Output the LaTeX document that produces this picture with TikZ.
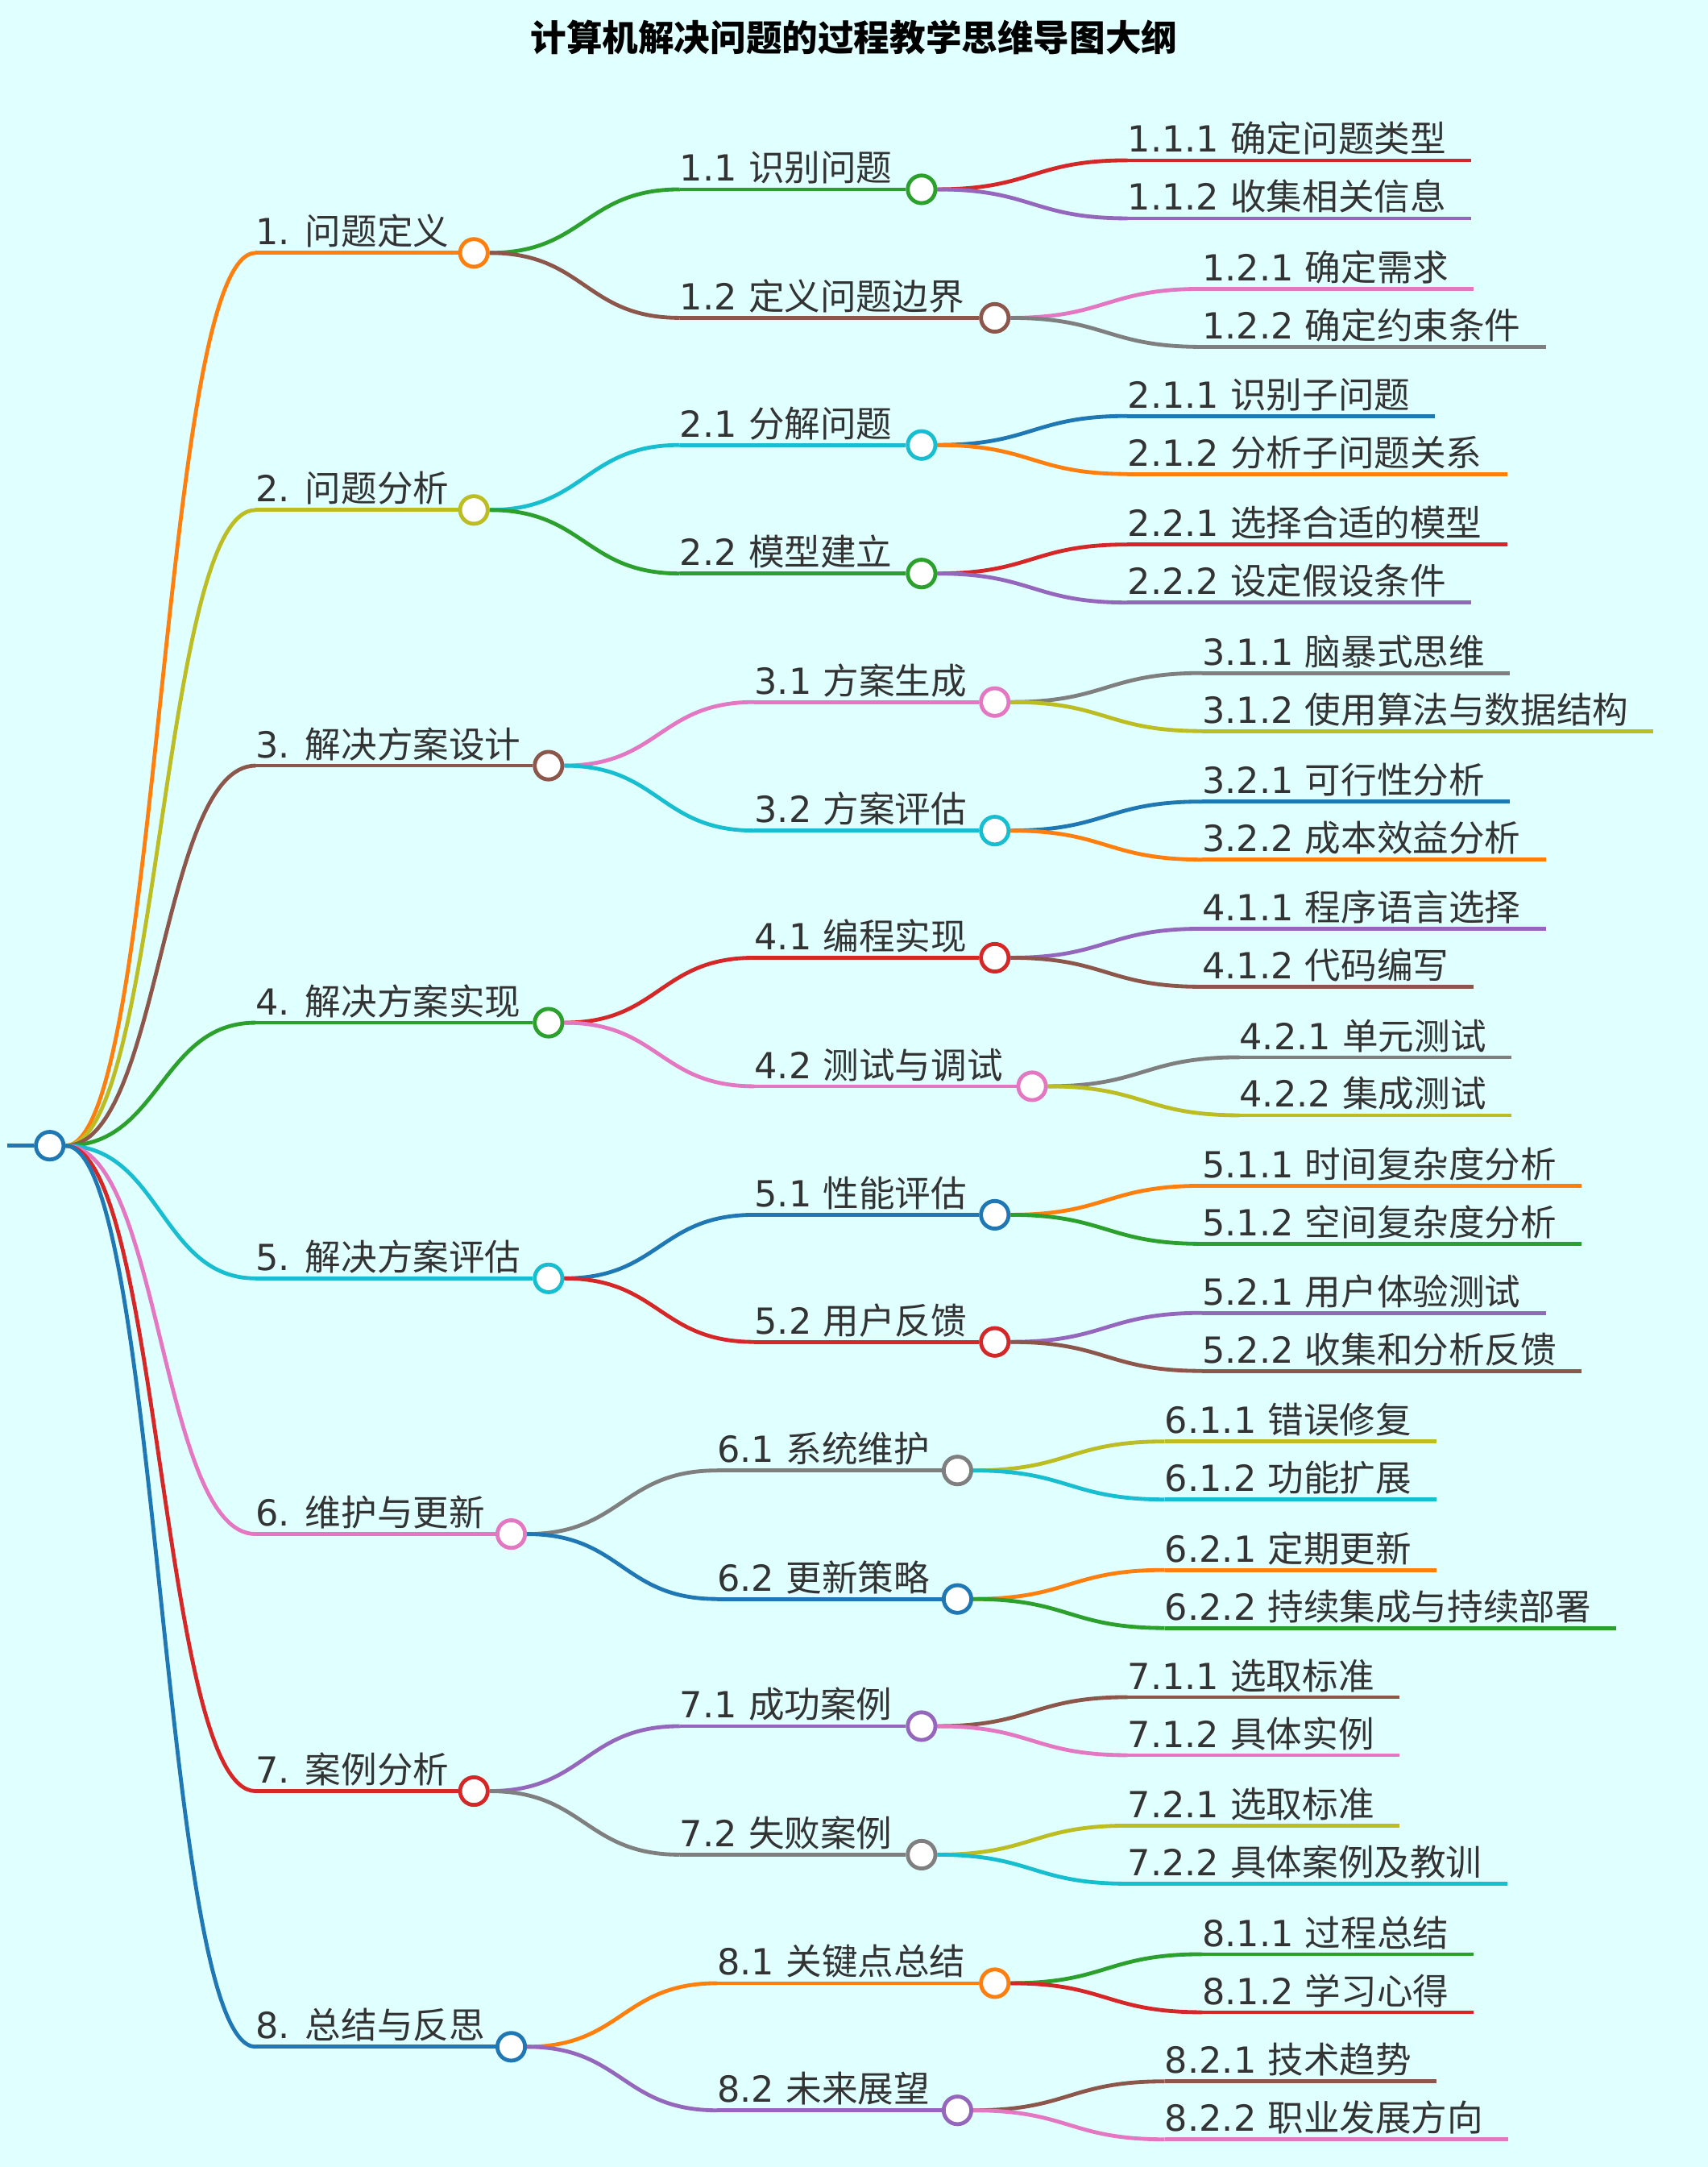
\documentclass[tikz,border=0pt]{standalone}
\usepackage{fontspec}
\setmainfont{Noto Sans CJK SC}
\newfontfamily\latn{DejaVu Sans}
\usetikzlibrary{calc}
\definecolor{bg}{HTML}{E0FFFF}
\definecolor{cor}{HTML}{FF7F0E}
\definecolor{col}{HTML}{BCBD22}
\definecolor{cbr}{HTML}{8C564B}
\definecolor{cgr}{HTML}{2CA02C}
\definecolor{ccy}{HTML}{17BECF}
\definecolor{cpk}{HTML}{E377C2}
\definecolor{crd}{HTML}{D62728}
\definecolor{cbl}{HTML}{1F77B4}
\definecolor{cpu}{HTML}{9467BD}
\definecolor{cgy}{HTML}{7F7F7F}
\tikzset{dot/.style = {circle, draw, fill=white, minimum size=1cm, inner sep=0pt, line width=4pt},
         lbl/.style = {anchor=south west, inner xsep=0pt, inner ysep=5pt, text=black!80,
                       font=\fontsize{37}{40}\selectfont},
         edge/.style = {line width=4pt}
        }
\newcommand{\curveto}[3]{%
  \draw[edge,#3] let \p1=(#1), \p2=(#2) in
    (\p1) .. controls (\x1*0.5+\x2*0.5,\y1) and (\x1*0.5+\x2*0.5,\y2) .. (\p2);}
\begin{document}
\begin{tikzpicture}[x=0.05cm,y=-0.05cm]
  \fill[bg] (0,0) rectangle (1236,1568);
  \useasboundingbox (0,0) rectangle (1236,1568);
  \node[font=\fontsize{37}{40}\selectfont\bfseries] (title) at (618,27) {计算机解决问题的过程教学思维导图大纲};
  % root
  \coordinate (stub) at (5,829);
  \node[dot,draw=cbl] (root) at (36,829) {};
  \draw[edge,cbl] (stub) -- (root.west);
  % level 1
  \foreach \i/\y/\cx/\col/\txt in {1/183/343/cor/问题定义, 2/369/343/col/问题分析,
      3/554/397/cbr/解决方案设计, 4/740/397/cgr/解决方案实现, 5/925/397/ccy/解决方案评估,
      6/1110/370/cpk/维护与更新, 7/1296/343/crd/案例分析, 8/1481/370/cbl/总结与反思}{
    \node[lbl] (l\i) at (185,\y) {{\latn\i. }\txt};
    \node[dot,draw=\col] (n\i) at (\cx,\y) {};
    \curveto{root.east}{l\i.south west}{\col}
    \draw[edge,\col] (l\i.south west) -- (n\i.west);
  }
  % level 2
  \foreach \i/\j/\y/\sx/\cx/\col/\txt in {1/1/137/492/667/cgr/识别问题, 1/2/230/492/720/cbr/定义问题边界,
      2/1/322/492/667/ccy/分解问题, 2/2/415/492/667/cgr/模型建立,
      3/1/508/546/720/cpk/方案生成, 3/2/601/546/720/ccy/方案评估,
      4/1/693/546/720/crd/编程实现, 4/2/786/546/747/cpk/测试与调试,
      5/1/879/546/720/cbl/性能评估, 5/2/971/546/720/crd/用户反馈,
      6/1/1064/519/693/cgy/系统维护, 6/2/1157/519/693/cbl/更新策略,
      7/1/1249/492/667/cpu/成功案例, 7/2/1342/492/667/cgy/失败案例,
      8/1/1435/519/720/cor/关键点总结, 8/2/1527/519/693/cpu/未来展望}{
    \node[lbl] (l\i\j) at (\sx,\y) {{\latn\i.\j\ }\txt};
    \node[dot,draw=\col] (n\i\j) at (\cx,\y) {};
    \curveto{n\i.east}{l\i\j.south west}{\col}
    \draw[edge,\col] (l\i\j.south west) -- (n\i\j.west);
  }
  % level 3
  \foreach \i/\j/\k/\y/\sx/\col/\txt in {1/1/1/116/816/crd/确定问题类型, 1/1/2/158/816/cpu/收集相关信息,
      1/2/1/209/870/cpk/确定需求, 1/2/2/251/870/cgy/确定约束条件,
      2/1/1/301/816/cbl/识别子问题, 2/1/2/343/816/cor/分析子问题关系,
      2/2/1/394/816/crd/选择合适的模型, 2/2/2/436/816/cpu/设定假设条件,
      3/1/1/487/870/cgy/脑暴式思维, 3/1/2/529/870/col/使用算法与数据结构,
      3/2/1/580/870/cbl/可行性分析, 3/2/2/622/870/cor/成本效益分析,
      4/1/1/672/870/cpu/程序语言选择, 4/1/2/714/870/cbr/代码编写,
      4/2/1/765/897/cgy/单元测试, 4/2/2/807/897/col/集成测试,
      5/1/1/858/870/cor/时间复杂度分析, 5/1/2/900/870/cgr/空间复杂度分析,
      5/2/1/950/870/cpu/用户体验测试, 5/2/2/992/870/cbr/收集和分析反馈,
      6/1/1/1043/843/col/错误修复, 6/1/2/1085/843/ccy/功能扩展,
      6/2/1/1136/843/cor/定期更新, 6/2/2/1178/843/cgr/持续集成与持续部署,
      7/1/1/1228/816/cbr/选取标准, 7/1/2/1270/816/cpk/具体实例,
      7/2/1/1321/816/col/选取标准, 7/2/2/1363/816/ccy/具体案例及教训,
      8/1/1/1414/870/cgr/过程总结, 8/1/2/1456/870/crd/学习心得,
      8/2/1/1506/843/cbr/技术趋势, 8/2/2/1548/843/cpk/职业发展方向}{
    \node[lbl] (l\i\j\k) at (\sx,\y) {{\latn\i.\j.\k\ }\txt};
    \curveto{n\i\j.east}{l\i\j\k.south west}{\col}
    \draw[edge,\col] (l\i\j\k.south west) -- ([xshift=0.9cm]l\i\j\k.south east);
  }
\end{tikzpicture}
\end{document}
